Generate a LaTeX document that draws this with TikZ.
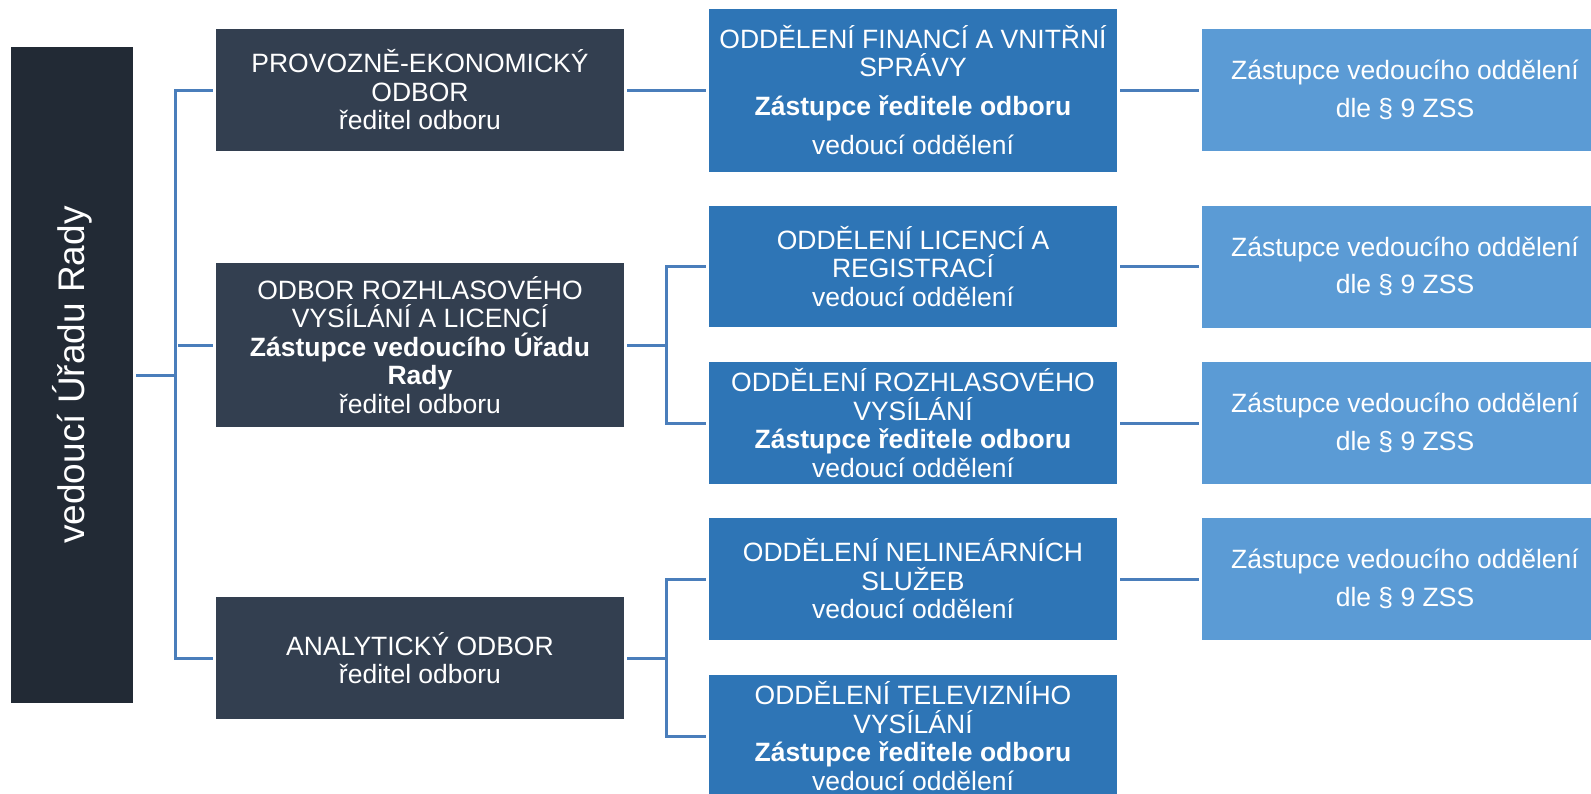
\documentclass[tikz,border=0pt]{standalone}
\usepackage{fontspec}
\usepackage{graphicx}
\setmainfont{Liberation Sans}
\definecolor{rootc}{HTML}{222A35}
\definecolor{colA}{HTML}{333F50}
\definecolor{colB}{HTML}{2E75B6}
\definecolor{colC}{HTML}{5B9BD5}
\definecolor{linec}{HTML}{4A7EBB}
\tikzset{
  ob/.style={rectangle, inner sep=0pt, text=white, align=center, font=\fontsize{26.5}{28.5}\selectfont},
  rootbox/.style={ob, fill=rootc, minimum width=122pt, minimum height=656pt, font=\fontsize{37}{40}\selectfont},
  lvlA/.style={ob, fill=colA, minimum width=408pt},
  lvlB/.style={ob, fill=colB, minimum width=408pt},
  lvlC/.style={ob, fill=colC, minimum width=406pt, minimum height=122pt, font=\fontsize{26.5}{37.5}\selectfont},
  conn/.style={draw=linec, line width=3pt, shorten <=3pt, shorten >=3pt},
  connS/.style={draw=linec, line width=3pt, shorten <=3pt},
}
\begin{document}
\begin{tikzpicture}[x=1pt,y=-1pt]
\useasboundingbox (0,0) rectangle (1591,793);
\clip (0,0) rectangle (1591,793);
\fill[white] (0,0) rectangle (1591,793);

% root
\node[rootbox] (root) at (72,375) {\rotatebox{90}{vedoucí Úřadu Rady}};

% level A
\node[lvlA, minimum height=122pt] (b1) at (420,90) {PROVOZNĚ-EKONOMICKÝ\\ODBOR\\ředitel odboru};
\node[lvlA, minimum height=164pt] (b2) at (420,345) {ODBOR ROZHLASOVÉHO\\VYSÍLÁNÍ A LICENCÍ\\\textbf{Zástupce vedoucího Úřadu}\\\textbf{Rady}\\ředitel odboru};
\node[lvlA, minimum height=122pt] (b3) at (420,658) {ANALYTICKÝ ODBOR\\ředitel odboru};

% level B
\node[lvlB, minimum height=163pt] (c1) at (913,90) {ODDĚLENÍ FINANCÍ A VNITŘNÍ\\SPRÁVY\\[10.5pt]\textbf{Zástupce ředitele odboru}\\[10.5pt]vedoucí oddělení};
\node[lvlB, minimum height=121pt] (c2) at (913,266.5) {ODDĚLENÍ LICENCÍ A\\REGISTRACÍ\\vedoucí oddělení};
\node[lvlB, minimum height=122pt] (c3) at (913,423) {ODDĚLENÍ ROZHLASOVÉHO\\VYSÍLÁNÍ\\\textbf{Zástupce ředitele odboru}\\vedoucí oddělení};
\node[lvlB, minimum height=122pt] (c4) at (913,579) {ODDĚLENÍ NELINEÁRNÍCH\\SLUŽEB\\vedoucí oddělení};
\node[lvlB, minimum height=122pt] (c5) at (913,736) {ODDĚLENÍ TELEVIZNÍHO\\VYSÍLÁNÍ\\\textbf{Zástupce ředitele odboru}\\vedoucí oddělení};

% level C
\node[lvlC] (d1) at (1405,90) {Zástupce vedoucího oddělení\\dle § 9 ZSS};
\node[lvlC] (d2) at (1405,266.5) {Zástupce vedoucího oddělení\\dle § 9 ZSS};
\node[lvlC] (d3) at (1405,423) {Zástupce vedoucího oddělení\\dle § 9 ZSS};
\node[lvlC] (d4) at (1405,579) {Zástupce vedoucího oddělení\\dle § 9 ZSS};

% junctions
\coordinate (jA) at (175,375);
\coordinate (jB) at (666,345);
\coordinate (jC) at (666,658);

% connectors root -> level A
\draw[connS] (root.east) -- (jA);
\draw[conn] (b1.west) -| (jA) |- (b3.west);
\draw[conn] (b2.west) -- (b2.west -| jA);

% level A -> level B
\draw[conn] (b1.east) -- (c1.west);
\draw[connS] (b2.east) -- (jB);
\draw[conn] (c2.west) -| (jB) |- (c3.west);
\draw[connS] (b3.east) -- (jC);
\draw[conn] (c4.west) -| (jC) |- (c5.west);

% level B -> level C
\draw[conn] (c1.east) -- (d1.west);
\draw[conn] (c2.east) -- (d2.west);
\draw[conn] (c3.east) -- (d3.west);
\draw[conn] (c4.east) -- (d4.west);
\end{tikzpicture}
\end{document}
